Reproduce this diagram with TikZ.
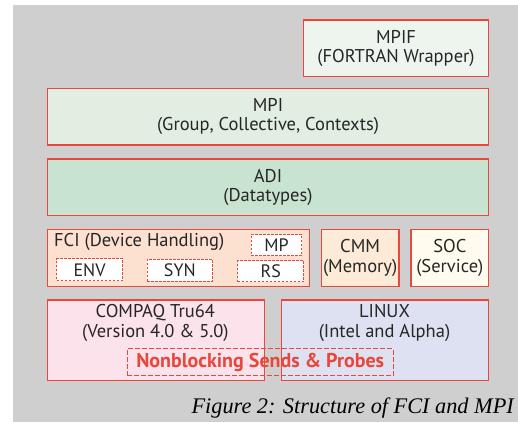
\documentclass[tikz,border=0pt]{standalone}
\usepackage{fontspec}
\setmainfont{PT Sans}
\newfontfamily\capfont{Liberation Serif}
\definecolor{bggray}{HTML}{CFCFCF}
\definecolor{bred}{HTML}{E8473C}
\definecolor{txt}{HTML}{262626}
\definecolor{cmpif}{HTML}{EEF5EE}
\definecolor{cmpi}{HTML}{E1EEE1}
\definecolor{cadi}{HTML}{C8E4D0}
\definecolor{cfci}{HTML}{FCE1D1}
\definecolor{ccmm}{HTML}{FDEBD7}
\definecolor{csoc}{HTML}{FFFBEF}
\definecolor{ccpq}{HTML}{FCE2EA}
\definecolor{clin}{HTML}{DEE1F1}
\tikzset{
  layer/.style={draw=bred, line width=1.3pt, inner sep=0pt, align=center, text=txt,
    font=\fontsize{18.5}{19.5}\selectfont},
  sub/.style={draw=bred, line width=1pt, dash pattern=on 2.5pt off 1.5pt, fill=white,
    inner sep=0pt, text=txt, font=\fontsize{18}{19}\selectfont},
}
\begin{document}
\begin{tikzpicture}[x=1pt,y=-1pt]
\useasboundingbox (0,0) rectangle (518,422);
\fill[bggray] (13,5) rectangle (518,422);
% layers
\node[layer, fill=cmpif, minimum width=185.3pt, minimum height=56.7pt, anchor=north west] (mpif) at (302.7,19.3) {MPIF\\(FORTRAN Wrapper)};
\node[layer, fill=cmpi, minimum width=441.3pt, minimum height=56.6pt, anchor=north west] (mpi) at (46.7,87.7) {MPI\\(Group, Collective, Contexts)};
\node[layer, fill=cadi, minimum width=441.3pt, minimum height=56.7pt, anchor=north west] (adi) at (46.7,158.3) {ADI\\(Datatypes)};
\node[layer, fill=cfci, minimum width=262.3pt, minimum height=56.7pt, anchor=north west] (fci) at (46.7,229) {};
\node[layer, draw=none, anchor=north west, inner sep=0pt] (fcit) at (53.5,232.5) {FCI (Device Handling)};
\node[sub, minimum width=66pt, minimum height=22pt, anchor=north west] (env) at (56,258.3) {ENV};
\node[sub, minimum width=65.3pt, minimum height=22pt, anchor=north west] (syn) at (146.7,258.7) {SYN};
\node[sub, minimum width=66pt, minimum height=21pt, anchor=north west] (rs) at (237.3,260) {RS};
\node[sub, minimum width=50.6pt, minimum height=21.3pt, anchor=north west] (mp) at (250.7,233.7) {MP};
\node[layer, fill=ccmm, minimum width=77.6pt, minimum height=56.7pt, anchor=north west] (cmm) at (320.7,229) {CMM\\(Memory)};
\node[layer, fill=csoc, minimum width=77.7pt, minimum height=56.7pt, anchor=north west] (soc) at (410.3,229) {SOC\\(Service)};
\node[layer, fill=ccpq, minimum width=217.3pt, minimum height=80.7pt, anchor=north west] (cpq) at (46.7,299.3) {};
\node[layer, draw=none, anchor=center] (cpqt) at (155.3,323) {COMPAQ Tru64\\(Version 4.0 \& 5.0)};
\node[layer, fill=clin, minimum width=207pt, minimum height=80.7pt, anchor=north west] (lin) at (281,299.3) {};
\node[layer, draw=none, anchor=center] (lint) at (384.5,323) {LINUX\\(Intel and Alpha)};
\node[sub, fill=none, dash pattern=on 4.5pt off 2.5pt, minimum width=266pt, minimum height=26.7pt, anchor=north west,
  font=\fontsize{20}{20}\selectfont\bfseries, text=bred] (nb) at (126.7,348.3) {Nonblocking Sends \& Probes};
\node[anchor=east, inner sep=0pt, font=\capfont\itshape\fontsize{22.3}{24}\selectfont, text=black] (cap) at (514,408) {Figure 2: Structure of FCI and MPI};
\end{tikzpicture}
\end{document}
